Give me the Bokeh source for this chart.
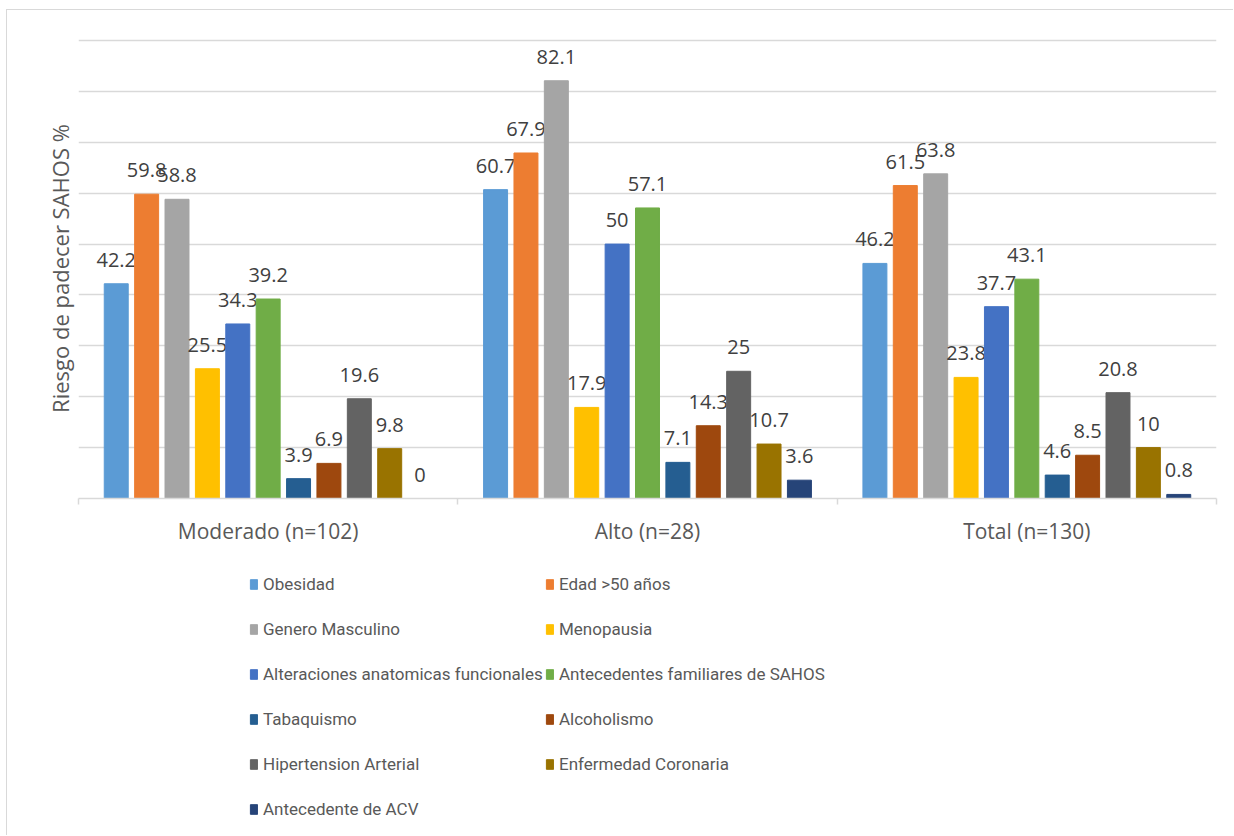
from bokeh.plotting import figure
from bokeh.layouts import column
from bokeh.models import (Range1d, FixedTicker, Legend, LegendItem, ColumnDataSource)
from bokeh.transform import dodge
from bokeh.core.properties import value
from bokeh.embed import file_html
from bokeh.resources import INLINE

categories = ["Moderado (n=102)", "Alto (n=28)", "Total (n=130)"]
series_names = [
    "Obesidad", "Edad >50 años", "Genero Masculino", "Menopausia",
    "Alteraciones anatomicas funcionales", "Antecedentes familiares de SAHOS",
    "Tabaquismo", "Alcoholismo", "Hipertension Arterial",
    "Enfermedad Coronaria", "Antecedente de ACV",
]
obesidad = [42.2, 60.7, 46.2]
edad = [59.8, 67.9, 61.5]
genero = [58.8, 82.1, 63.8]
menopausia = [25.5, 17.9, 23.8]
alteraciones = [34.3, 50, 37.7]
antecedentes_fam = [39.2, 57.1, 43.1]
tabaquismo = [3.9, 7.1, 4.6]
alcoholismo = [6.9, 14.3, 8.5]
hipertension = [19.6, 25, 20.8]
coronaria = [9.8, 10.7, 10]
acv = [0, 3.6, 0.8]
series_values = [obesidad, edad, genero, menopausia, alteraciones, antecedentes_fam,
                 tabaquismo, alcoholismo, hipertension, coronaria, acv]
colors = ["#5B9BD5", "#ED7D31", "#A5A5A5", "#FFC000", "#4472C4", "#70AD47",
          "#255E91", "#9E480E", "#636363", "#997300", "#264478"]

FONT = "Open Sans"
W = 1227
n = len(categories)
centers = [i + 0.5 for i in range(n)]  # category slot centres on the axis

# ---------------- main chart ----------------
p = figure(width=W, height=560, x_range=Range1d(0, n), y_range=Range1d(0, 90.4),
           output_backend="svg", toolbar_location=None,
           min_border_left=71, min_border_right=18, min_border_top=28, min_border_bottom=72,
           margin=(9, 0, 0, 6))
p.styles = {"border-left": "1px solid #d9d9d9", "border-top": "1px solid #d9d9d9"}
p.outline_line_color = None
p.background_fill_color = "white"
p.border_fill_color = "white"

xa = p.xaxis[0]
xa.ticker = FixedTicker(ticks=centers, minor_ticks=list(range(n + 1)))
xa.major_label_overrides = {c: name for c, name in zip(centers, categories)}
xa.major_tick_line_color = None
xa.major_tick_out = 0
xa.major_tick_in = 0
xa.minor_tick_line_color = "#d9d9d9"
xa.minor_tick_line_width = 1.5
xa.minor_tick_out = 6
xa.minor_tick_in = 0
xa.axis_line_color = "#d9d9d9"
xa.axis_line_width = 1.5
xa.major_label_text_font = FONT
xa.major_label_text_font_size = "21px"
xa.major_label_text_color = "#595959"
xa.major_label_standoff = 12

ya = p.yaxis[0]
ya.ticker = FixedTicker(ticks=list(range(0, 91, 10)))
ya.axis_line_color = None
ya.major_tick_line_color = None
ya.minor_tick_line_color = None
ya.major_tick_out = 0
ya.major_label_text_font_size = "1px"
ya.major_label_text_alpha = 0
ya.major_label_standoff = 0
ya.axis_label = "Riesgo de padecer SAHOS %"
ya.axis_label_text_font = FONT
ya.axis_label_text_font_size = "22px"
ya.axis_label_text_font_style = "normal"
ya.axis_label_text_color = "#595959"
ya.axis_label_standoff = 4

p.xgrid.grid_line_color = None
p.ygrid.grid_line_color = "#d9d9d9"
p.ygrid.grid_line_width = 1.5

pitch = 0.0801
bar_w = 0.0632
for j, (vals, col) in enumerate(zip(series_values, colors)):
    src = ColumnDataSource(dict(x=centers, cat=categories, val=vals,
                                lab=[f"{v:g}" for v in vals]))
    off = (j - 5) * pitch
    p.vbar(x=dodge("x", off), top="val", width=bar_w, source=src, color=col)
    p.text(x=dodge("x", off), y="val", text="lab",
           source=src, text_align="center", text_baseline="bottom",
           y_offset=-17, text_font=value(FONT), text_font_size="20px", text_color="#404040")

# ---------------- legend strip (frame aligned with the chart above) ----------------
leg = figure(width=W, height=266, x_range=Range1d(0, 1), y_range=Range1d(0, 1),
             output_backend="svg", toolbar_location=None,
             x_axis_location=None, y_axis_location=None,
             min_border_left=71, min_border_right=18, min_border_top=0, min_border_bottom=0,
             margin=(0, 0, 0, 6))
leg.styles = {"border-left": "1px solid #d9d9d9"}
leg.outline_line_color = None
leg.xgrid.visible = False
leg.ygrid.visible = False
leg.background_fill_color = "white"
leg.border_fill_color = "white"

items = []
for name, col in zip(series_names, colors):
    # swatch-only renderer (hidden in the strip, shown by the legend)
    r = leg.vbar(x=[0.5], top=[0.5], width=0.1, color=col, visible=False)
    items.append(LegendItem(label=name, renderers=[r]))

def make_legend(its, loc):
    return Legend(items=its, location=loc, orientation="vertical",
                  border_line_color=None, background_fill_alpha=0,
                  inactive_fill_alpha=0,
                  glyph_width=9, glyph_height=12, label_height=21, spacing=24,
                  padding=0, margin=0, label_standoff=5,
                  label_text_font="Roboto", label_text_font_size="17px",
                  label_text_color="#595959")

leg.add_layout(make_legend(items[0::2], (171, 16)), "center")
leg.add_layout(make_legend(items[1::2], (467, 61)), "center")

layout = column(p, leg, spacing=0)
open("out.html", "w").write(file_html(layout, INLINE))
